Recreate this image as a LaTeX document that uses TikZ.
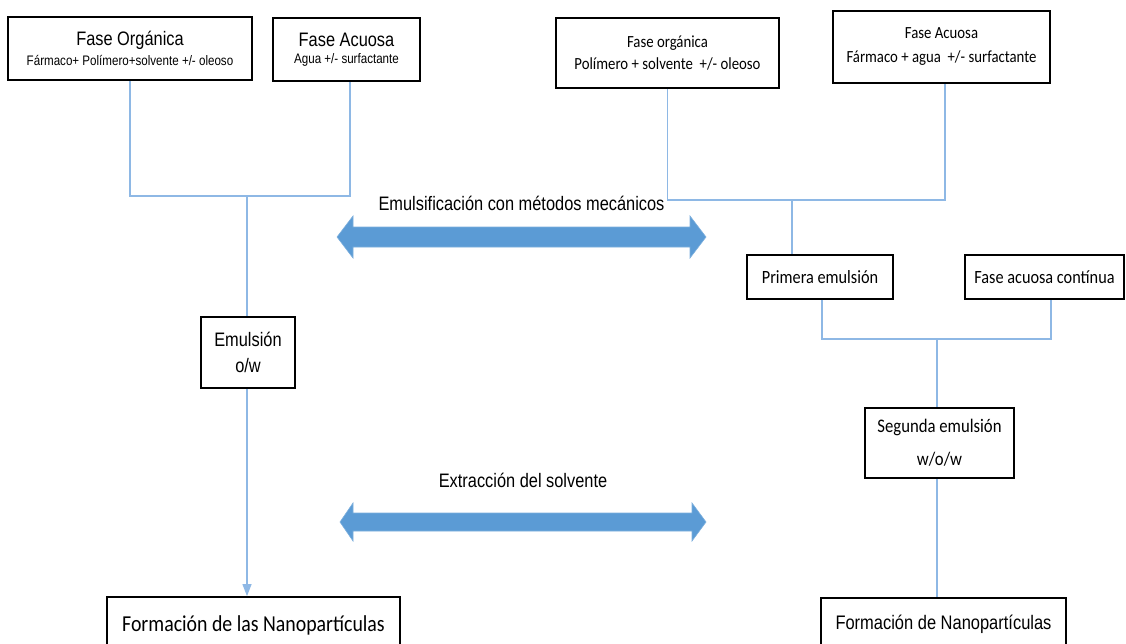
\documentclass[tikz,border=0pt]{standalone}
\usepackage{fontspec}
\newfontfamily\arialf[FakeStretch=0.84]{Liberation Sans}
\newfontfamily\calf[FakeStretch=0.87]{Carlito}
\usetikzlibrary{arrows.meta}
\definecolor{lineblue}{HTML}{8EB8E5}
\definecolor{arrowblue}{HTML}{5B9BD5}
\newcommand\fsz[2]{\fontsize{#1}{#2}\selectfont}
\tikzset{
  box/.style={draw=black, line width=1.8pt, align=center, inner sep=0pt},
  conn/.style={draw=lineblue, line width=1.1pt},
  bigarrow/.style={fill=arrowblue, draw=arrowblue!80!white, line width=0.6pt},
  lbl/.style={inner sep=0pt, font=\arialf\fsz{19.5}{22}}
}
\begin{document}
\begin{tikzpicture}[x=1pt,y=-1pt]
\clip (0,0) rectangle (1126,643);
\fill[white] (0,0) rectangle (1126,643);

% left column
\node[box, minimum width=244pt, minimum height=63pt] (fo) at (130,48.5)
  {\arialf\fsz{19.5}{22}Fase Orgánica\\[5pt]\arialf\fsz{13.8}{16}Fármaco+ Polímero+solvente +/- oleoso};
\node[box, minimum width=147pt, minimum height=63pt] (fa) at (346.5,49.5)
  {\arialf\fsz{19.5}{22}Fase Acuosa\\[5pt]\arialf\fsz{13.8}{16}Agua +/- surfactante};
\node[box, minimum width=94pt, minimum height=71pt] (emo) at (248,352.5)
  {\arialf\fsz{19.5}{22}Emulsión\\[11pt]\arialf\fsz{19.5}{22}o/w};
\node[box, minimum width=293pt, minimum height=56pt] (forml) at (253.5,625)
  {\calf\fsz{22.8}{26}Formación de las Nanopartículas};

\coordinate (j1) at (247,196);
\draw[conn] (fo.south) -- (fo.south |- j1) -- ([xshift=3.5pt]fa.south |- j1) -- ([xshift=3.5pt]fa.south);
\draw[conn] (j1) -- (j1 |- emo.north);
\draw[conn, -{Triangle[width=9pt,length=12pt]}] (j1 |- emo.south) -- (j1 |- forml.north);

% right column
\node[box, minimum width=223pt, minimum height=70pt] (fo2) at (667.5,53)
  {\calf\fsz{17}{20}Fase orgánica\\[7pt]\calf\fsz{17}{20}Polímero + solvente \ +/- oleoso};
\node[box, minimum width=217pt, minimum height=72pt] (fa2) at (941.5,47)
  {\calf\fsz{17}{20}Fase Acuosa\\[12pt]\calf\fsz{17}{20}Fármaco + agua \ +/- surfactante};
\node[box, minimum width=146pt, minimum height=44pt] (pe) at (820,277)
  {\calf\fsz{18.7}{22}Primera emulsión};
\node[box, minimum width=159pt, minimum height=44pt] (fac) at (1044.5,277)
  {\calf\fsz{18.7}{22}Fase acuosa contínua};
\node[box, minimum width=149pt, minimum height=70pt] (se) at (939.5,443)
  {\calf\fsz{19.2}{22}Segunda emulsión\\[15pt]\calf\fsz{19.2}{22}w/o/w};
\node[box, minimum width=245pt, minimum height=52pt] (formr) at (943.5,624)
  {\arialf\fsz{19.6}{22}Formación de Nanopartículas};

\coordinate (j2) at (792,200);
\draw[conn] (fo2.south) -- (fo2.south |- j2) -- ([xshift=3.5pt]fa2.south |- j2) -- ([xshift=3.5pt]fa2.south);
\draw[conn] (j2) -- (j2 |- pe.north);
\coordinate (j3) at (937,339);
\draw[conn] ([xshift=2pt]pe.south) -- ([xshift=2pt]pe.south |- j3) -- ([xshift=6.5pt]fac.south |- j3) -- ([xshift=6.5pt]fac.south);
\draw[conn] (j3) -- (j3 |- se.north);
\draw[conn] (j3 |- se.south) -- (j3 |- formr.north);

% big double arrows
\draw[bigarrow] (337,237) -- (353,216) -- (353,227) -- (690,227) -- (690,216) -- (706,237)
  -- (690,258) -- (690,247) -- (353,247) -- (353,258) -- cycle;
\node[lbl] (t1) at (521.5,203) {Emulsificación con métodos mecánicos};

\draw[bigarrow] (340,522) -- (353,503) -- (353,513) -- (692,513) -- (692,503) -- (706,522)
  -- (692,541) -- (692,531) -- (353,531) -- (353,541) -- cycle;
\node[lbl] (t2) at (523,480) {Extracción del solvente};
\end{tikzpicture}
\end{document}
